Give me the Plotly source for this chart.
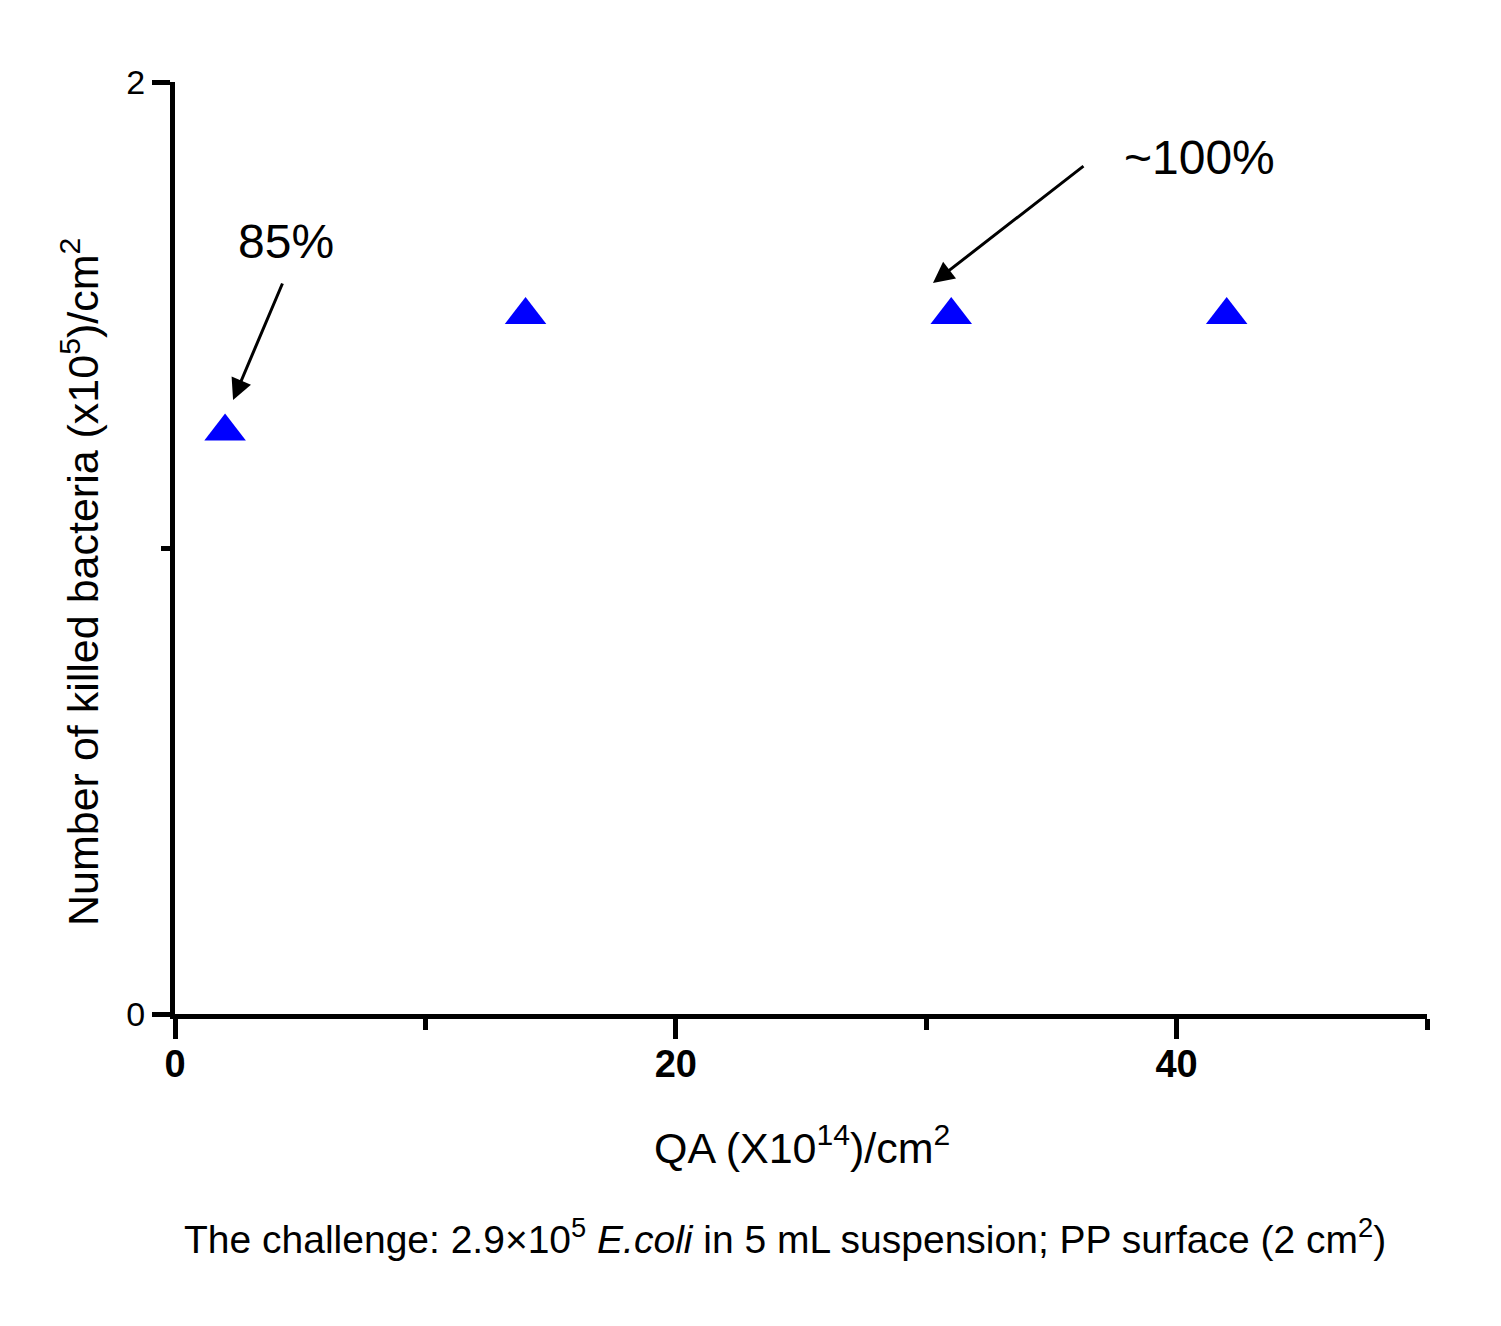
import plotly.graph_objects as go

qa = [2, 14, 31, 42]
killed = [1.25, 1.5, 1.5, 1.5]
x_ticks = [0, 20, 40]
x_minor = [10, 30, 50]
y_ticks = [0, 2]
y_minor = [1]

FONT = "Liberation Sans, Arial, sans-serif"

fig = go.Figure()
fig.add_trace(go.Scatter(
    x=qa, y=killed, mode="markers",
    marker=dict(symbol="triangle-up", size=36, color="#0000FF", line=dict(width=0)),
    showlegend=False, cliponaxis=False,
))

W, H = 1501, 1326
OFF = 8  # default page body margin
PL, PR, PT, PB = 175, 1427, 82, 1014  # plot area in page pixels
L = PL - OFF
T = PT - OFF
R = W - (PR - OFF)
B = H - (PB - OFF)

def px_to_paper(px, py):
    return (px - PL) / (PR - PL), (PB - py) / (PB - PT)

annots = []
annots.append(dict(x=2.32, y=1.3176, xref="x", yref="y", text="", showarrow=True,
                   ax=50, ay=-118, arrowhead=2, arrowsize=1.4, arrowwidth=3, arrowcolor="black"))
annots.append(dict(x=30.27, y=1.5687, xref="x", yref="y", text="", showarrow=True,
                   ax=152, ay=-118, arrowhead=2, arrowsize=1.4, arrowwidth=3, arrowcolor="black"))
annots.append(dict(x=4.43, y=1.657, xref="x", yref="y", text="85%", showarrow=False,
                   font=dict(family=FONT, size=48, color="black")))
annots.append(dict(x=40.9, y=1.837, xref="x", yref="y", text="~100%", showarrow=False,
                   font=dict(family=FONT, size=48, color="black")))

px, py = px_to_paper(802, 1145)
annots.append(dict(x=px, y=py, xref="paper", yref="paper", text="QA (X10<sup>14</sup>)/cm<sup>2</sup>",
                   showarrow=False, xanchor="center", yanchor="middle",
                   font=dict(family=FONT, size=43, color="black")))
px, py = px_to_paper(80, 582)
annots.append(dict(x=px, y=py, xref="paper", yref="paper", textangle=-90,
                   text="Number of killed bacteria (x10<sup>5</sup>)/cm<sup>2</sup>",
                   showarrow=False, xanchor="center", yanchor="middle",
                   font=dict(family=FONT, size=43, color="black")))
px, py = px_to_paper(785, 1236)
annots.append(dict(x=px, y=py, xref="paper", yref="paper",
                   text="The challenge: 2.9×10<sup>5</sup> <i>E.coli</i> in 5 mL suspension; PP surface (2 cm<sup>2</sup>)",
                   showarrow=False, xanchor="center", yanchor="middle",
                   font=dict(family=FONT, size=39, color="black")))

fig.update_layout(
    width=W, height=H,
    margin=dict(l=L, r=R, t=T, b=B, pad=0),
    paper_bgcolor="white", plot_bgcolor="white",
    annotations=annots,
    xaxis=dict(range=[0, 50], tickvals=x_ticks, ticktext=[str(v) for v in x_ticks],
               showgrid=False, zeroline=False, showline=True, linecolor="black", linewidth=5,
               ticks="outside", ticklen=20, tickwidth=5, tickcolor="black", ticklabelstandoff=-8,
               tickfont=dict(family=FONT, size=38, color="black", weight="bold"),
               minor=dict(tickvals=x_minor, ticks="outside", ticklen=11, tickwidth=5, tickcolor="black", showgrid=False)),
    yaxis=dict(range=[0, 2], tickvals=y_ticks, ticktext=[str(v) for v in y_ticks],
               showgrid=False, zeroline=False, showline=True, linecolor="black", linewidth=5,
               ticks="outside", ticklen=18, tickwidth=5, tickcolor="black", ticklabelstandoff=0,
               tickfont=dict(family=FONT, size=34, color="black"),
               minor=dict(tickvals=y_minor, ticks="outside", ticklen=9, tickwidth=5, tickcolor="black", showgrid=False)),
)

fig.write_html("out.html")
